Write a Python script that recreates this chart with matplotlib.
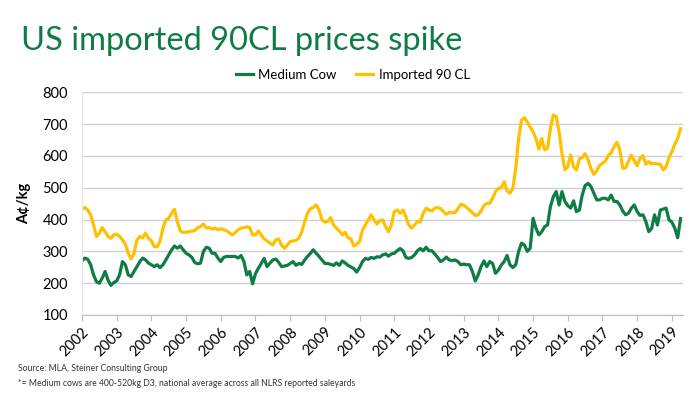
import matplotlib
matplotlib.use("Agg")
import matplotlib.pyplot as plt
import numpy as np

plt.rcParams['font.family'] = ['Lato', 'DejaVu Sans']

start_year = 2002
year_labels = [str(y) for y in range(2002, 2020)]

medium_cow = [
    270, 279, 275, 258, 226, 205, 200, 216, 237, 210, 193, 202,
    207, 226, 268, 258, 226, 221, 237, 252, 268, 279, 273, 263,
    258, 252, 258, 249, 258, 273, 289, 305, 317, 310, 317, 305,
    294, 289, 281, 265, 261, 263, 300, 313, 310, 294, 294, 279,
    268, 281, 284, 284, 284, 284, 279, 287, 268, 226, 237, 198,
    230, 247, 262, 278, 252, 263, 273, 276, 266, 252, 254, 256,
    262, 268, 256, 262, 259, 273, 284, 294, 305, 294, 284, 273,
    262, 262, 259, 256, 264, 256, 270, 264, 256, 251, 246, 235,
    249, 268, 278, 275, 281, 278, 283, 282, 289, 292, 285, 292,
    294, 302, 309, 302, 281, 278, 281, 289, 302, 309, 302, 313,
    302, 302, 292, 281, 268, 273, 282, 273, 271, 273, 268, 258,
    260, 258, 258, 237, 207, 226, 252, 270, 252, 268, 262, 231,
    241, 257, 268, 287, 258, 249, 258, 300, 326, 320, 300, 310,
    404, 373, 352, 362, 378, 383, 441, 472, 488, 446, 488, 457,
    444, 436, 459, 425, 430, 477, 507, 514, 504, 483, 462, 462,
    467, 467, 462, 477, 457, 457, 446, 427, 415, 420, 436, 446,
    425, 413, 415, 394, 362, 372, 415, 383, 430, 433, 436, 399,
    392, 373, 343, 403,
]

imported_90cl = [
    434, 438, 430, 415, 383, 347, 357, 375, 362, 347, 341, 352,
    354, 347, 336, 323, 294, 276, 294, 336, 347, 343, 357, 341,
    333, 315, 315, 331, 373, 399, 404, 420, 432, 394, 364, 360,
    360, 362, 364, 365, 375, 378, 386, 373, 375, 370, 373, 368,
    371, 368, 365, 358, 352, 359, 368, 373, 375, 377, 375, 352,
    352, 364, 352, 339, 333, 326, 320, 336, 339, 320, 310, 320,
    331, 333, 335, 341, 362, 392, 420, 434, 438, 446, 430, 399,
    392, 394, 406, 383, 373, 364, 352, 360, 343, 339, 317, 322,
    331, 367, 383, 399, 415, 399, 386, 396, 399, 378, 362, 383,
    425, 430, 420, 430, 409, 383, 373, 383, 394, 392, 420, 436,
    430, 427, 436, 438, 434, 425, 417, 422, 422, 422, 434, 448,
    446, 438, 430, 422, 413, 415, 427, 444, 451, 451, 467, 488,
    498, 500, 519, 490, 483, 498, 561, 655, 713, 720, 707, 690,
    676, 655, 622, 655, 619, 624, 687, 729, 724, 676, 608, 556,
    566, 603, 566, 556, 591, 595, 607, 588, 561, 542, 553, 570,
    577, 584, 601, 610, 629, 643, 619, 561, 563, 584, 603, 584,
    569, 593, 601, 574, 582, 575, 577, 575, 574, 556, 566, 595,
    614, 637, 655, 686,
]

green = '#0E7C45'
yellow = '#FFC000'

x_cow = start_year + np.arange(len(medium_cow)) / 12.0
x_imp = start_year + np.arange(len(imported_90cl)) / 12.0

fig = plt.figure(figsize=(7.0, 3.93), dpi=100)
ax = fig.add_axes([0.1171, 0.1985, 0.8586, 0.5665])

ax.plot(x_cow, medium_cow, color=green, lw=2.3, label='Medium Cow', solid_joinstyle='round')
ax.plot(x_imp, imported_90cl, color=yellow, lw=2.3, label='Imported 90 CL', solid_joinstyle='round')

ax.set_xlim(2002, 2019.32)
ax.set_ylim(100, 800)
ax.set_yticks(range(100, 801, 100))
ax.set_xticks([int(y) for y in year_labels])
ax.set_xticklabels(year_labels, rotation=45, ha='right', rotation_mode='anchor', fontsize=10.5)
ax.tick_params(axis='y', length=0, labelsize=10.5, pad=10)
ax.tick_params(axis='x', length=4, color='#BFBFBF', pad=3)
ax.grid(axis='y', color='#D0D0D0', lw=1)
ax.set_axisbelow(True)
for s in ['top', 'right']:
    ax.spines[s].set_visible(False)
ax.spines['left'].set_color('#E6E6E6')
ax.spines['bottom'].set_color('#BFBFBF')

ax.set_ylabel('A¢/kg', fontsize=10.5, fontweight='bold', labelpad=8)

fig.text(0.03, 0.895, 'US imported 90CL prices spike', color=green, fontsize=23.5,
         va='center', ha='left')

fig.legend(loc='center', bbox_to_anchor=(0.504, 0.81), ncol=2, frameon=False,
           fontsize=9.5, handlelength=1.3, columnspacing=1.5, handletextpad=0.4)

fig.text(0.026, 0.055, 'Source: MLA, Steiner Consulting Group', fontsize=6.2, color='#333333')
fig.text(0.026, 0.017, '*= Medium cows are 400-520kg D3, national average across all NLRS reported saleyards',
         fontsize=6.2, color='#333333')

fig.savefig('out.png', dpi=100)
